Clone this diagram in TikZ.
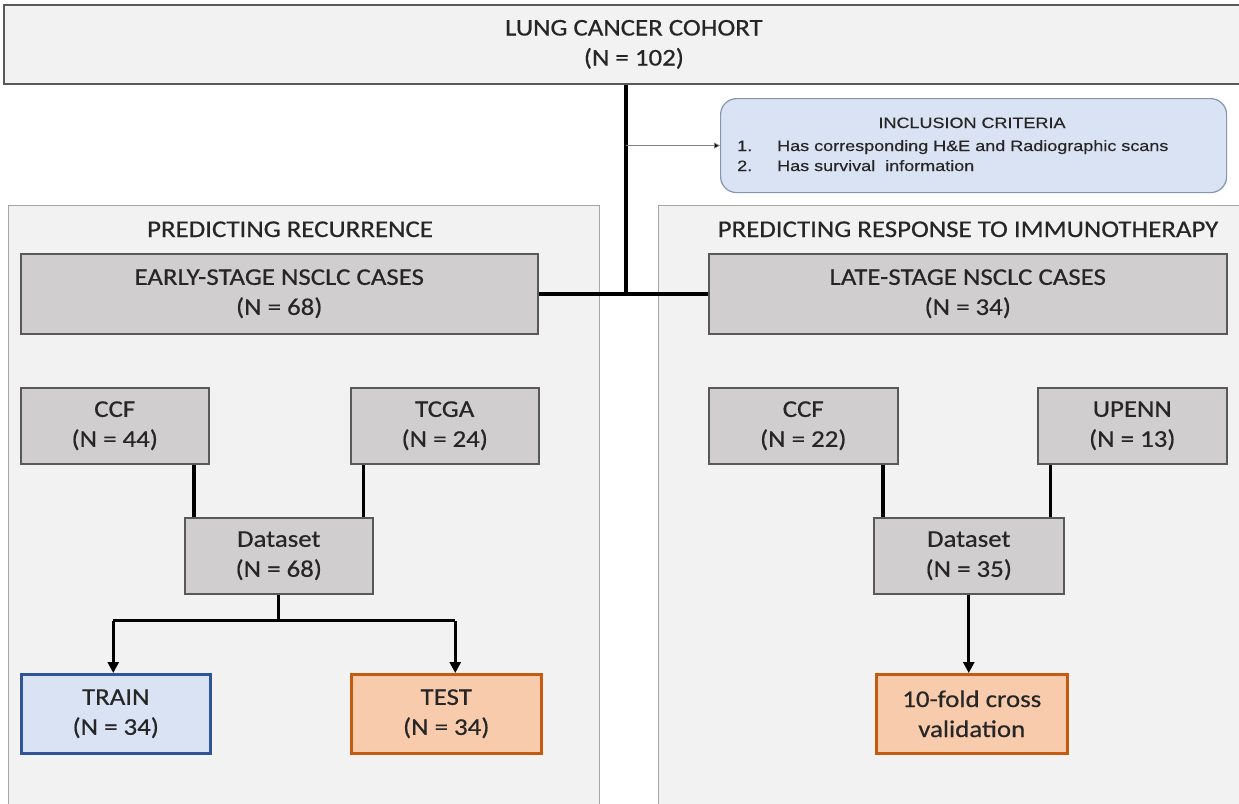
\documentclass[tikz,border=0pt]{standalone}
\usepackage{fontspec}
\setmainfont{Carlito}[FakeStretch=1.12,FakeBold=0.5]
\newfontfamily\incfont{Liberation Sans}[FakeStretch=1.2,FakeBold=0.4]
\usetikzlibrary{arrows.meta}
\definecolor{panelfill}{HTML}{F2F2F2}
\definecolor{panelline}{HTML}{A6A6A6}
\definecolor{boxfill}{HTML}{D0CECE}
\definecolor{boxline}{HTML}{595959}
\definecolor{trainfill}{HTML}{DAE3F3}
\definecolor{trainline}{HTML}{2F5597}
\definecolor{testfill}{HTML}{F8CBAD}
\definecolor{testline}{HTML}{C55A11}
\definecolor{incfill}{HTML}{DAE3F3}
\definecolor{incline}{HTML}{8497B0}
\definecolor{txt}{HTML}{262626}
\tikzset{
  base/.style={rectangle, anchor=north west, align=center, text=txt,
    font=\fontsize{24}{30}\selectfont, inner sep=0pt},
  graybox/.style={base, fill=boxfill, draw=boxline, line width=1.5pt},
  topbox/.style={base, fill=panelfill, draw=boxline, line width=1.8pt},
  trainbox/.style={base, fill=trainfill, draw=trainline, line width=2.5pt},
  testbox/.style={base, fill=testfill, draw=testline, line width=2.5pt},
  incbox/.style={rectangle, rounded corners=16pt, anchor=north west, fill=incfill, draw=incline, line width=1.2pt, inner sep=0pt},
  inctext/.style={anchor=base west, text=txt, inner sep=0pt, font=\incfont\fontsize{15}{18}\selectfont},
  paneltitle/.style={anchor=base, text=txt, inner sep=0pt, font=\fontsize{24}{30}\selectfont},
  panel/.style={fill=panelfill, draw=panelline, line width=1pt},
  conn/.style={line width=3.2pt, black},
  mainconn/.style={line width=3.8pt, black},
  arr/.style={conn, -{Triangle[length=11pt,width=11pt]}},
  thinarr/.style={line width=0.8pt, draw=gray, -{Triangle[length=6pt,width=6pt,fill=black]}}
}
\begin{document}
\begin{tikzpicture}[x=1pt,y=-1pt]
\useasboundingbox (0,0) rectangle (1239,803);
\clip (0,0) rectangle (1239,803);
\fill[white] (0,0) rectangle (1239,803);

% panels
\draw[panel] (8,205) rectangle (599,830);
\draw[panel] (658,205) rectangle (1260,830);

% top
\node[topbox, minimum width=1260pt, minimum height=79pt] (coh) at (3,4) {LUNG CANCER COHORT\\(N = 102)};
\node[paneltitle] (tA) at (290,237) {PREDICTING RECURRENCE};
\node[paneltitle] (tB) at (968,237) {PREDICTING RESPONSE TO IMMUNOTHERAPY};

% inclusion criteria
\node[incbox, minimum width=506pt, minimum height=94pt] (inc) at (720,98) {};
\node[anchor=base, text=txt, inner sep=0pt, font=\incfont\fontsize{15}{18}\selectfont] (incT) at (972,128) {INCLUSION CRITERIA};
\node[inctext] (inc1n) at (737,151) {1.};
\node[inctext] (inc1) at (777,151) {Has corresponding H\&E and Radiographic scans};
\node[inctext] (inc2n) at (737,171) {2.};
\node[inctext] (inc2) at (777,171) {Has survival\ \ information};

% stage boxes
\node[graybox, minimum width=517pt, minimum height=80pt] (early) at (20,253) {EARLY-STAGE NSCLC CASES\\(N = 68)};
\node[graybox, minimum width=518pt, minimum height=80pt] (late) at (708,253) {LATE-STAGE NSCLC CASES\\(N = 34)};

% left subtree
\node[graybox, minimum width=188pt, minimum height=76pt] (ccfA) at (20,387) {CCF\\(N = 44)};
\node[graybox, minimum width=188pt, minimum height=76pt] (tcga) at (350,387) {TCGA\\(N = 24)};
\node[graybox, minimum width=188pt, minimum height=76pt] (dsA) at (184,517) {Dataset\\(N = 68)};
\node[trainbox, minimum width=189pt, minimum height=79pt] (train) at (20,673) {TRAIN\\(N = 34)};
\node[testbox, minimum width=190pt, minimum height=79pt] (test) at (350,673) {TEST\\(N = 34)};

% right subtree
\node[graybox, minimum width=189pt, minimum height=76pt] (ccfB) at (708,387) {CCF\\(N = 22)};
\node[graybox, minimum width=189pt, minimum height=76pt] (upenn) at (1037,387) {UPENN\\(N = 13)};
\node[graybox, minimum width=190pt, minimum height=76pt] (dsB) at (873,517) {Dataset\\(N = 35)};
\node[testbox, minimum width=191pt, minimum height=79pt] (cv) at (875,673) {10-fold cross\\validation};

% main connectors
\coordinate (j) at (626,293);
\draw[mainconn] (coh.south -| j) -- (j);
\draw[mainconn] (early.east) -- (late.west);
\draw[thinarr] (j |- inc.west) -- (inc.west);

% left connectors
\draw[conn] ([xshift=10pt]dsA.north west |- ccfA.south) -- ([xshift=10pt]dsA.north west);
\draw[conn] ([xshift=-10pt]dsA.north east |- tcga.south) -- ([xshift=-10pt]dsA.north east);
\coordinate (splA) at ([yshift=-26pt]dsA.south);
\draw[conn] (dsA.south) -- (splA);
\draw[conn] ([xshift=-2.5pt]train.north |- splA) -- ([xshift=9pt]test.north |- splA);
\draw[arr] ([xshift=-2.5pt]train.north |- splA) -- ([xshift=-2.5pt]train.north);
\draw[arr] ([xshift=9pt]test.north |- splA) -- ([xshift=9pt]test.north);

% right connectors
\draw[conn] ([xshift=10pt]dsB.north west |- ccfB.south) -- ([xshift=10pt]dsB.north west);
\draw[conn] ([xshift=-14pt]dsB.north east |- upenn.south) -- ([xshift=-14pt]dsB.north east);
\draw[arr] (dsB.south) -- (dsB.south |- cv.north);
\end{tikzpicture}
\end{document}
